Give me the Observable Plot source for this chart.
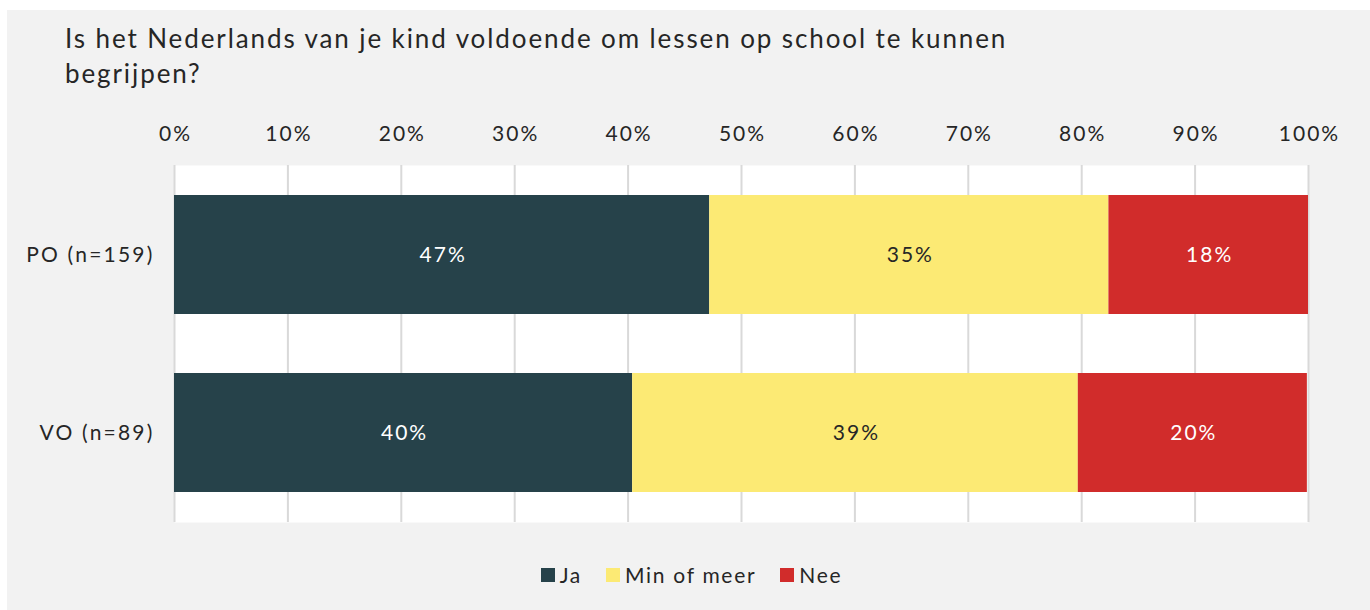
<!DOCTYPE html>
<html>
<head>
<meta charset="utf-8">
<script src="https://cdn.jsdelivr.net/npm/d3@7"></script>
<script src="https://cdn.jsdelivr.net/npm/@observablehq/plot@0.6"></script>
<style>
  html, body { margin: 0; padding: 0; background: #ffffff; }
  #page { position: relative; width: 1370px; height: 610px; overflow: hidden; font-family: Lato, "Open Sans", sans-serif; color: #262626; }
  #panel { position: absolute; left: 7px; top: 10px; width: 1363px; height: 600px; background: #f2f2f2; }
  #title { position: absolute; left: 65px; top: 21px; font-size: 26px; line-height: 35px; letter-spacing: 1.9px; color: #262626; width: 1100px; }
  #chart { position: absolute; left: 0; top: 100px; }
  #legend { position: absolute; left: 0; width: 1383px; top: 562px; display: flex; justify-content: center; font-size: 21px; letter-spacing: 1.7px; color: #262626; }
  .item { display: flex; align-items: center; margin: 0 12px; }
  .sw { width: 14px; height: 14px; margin-right: 5px; }
  g[aria-label="x-axis tick label"] text { letter-spacing: 2px; }
  g[aria-label="y-axis tick label"] text { letter-spacing: 2.2px; }
  g[aria-label="text"] text { letter-spacing: 2px; }
</style>
</head>
<body>
<div id="page">
  <div id="panel"></div>
  <div id="title">Is het Nederlands van je kind voldoende om lessen op school te kunnen<br>begrijpen?</div>
  <div id="chart"></div>
  <div id="legend"></div>
</div>
<script>
const groups = ["PO (n=159)", "VO (n=89)"];
const series = ["Ja", "Min of meer", "Nee"];
const colors = ["#26424a", "#fcea74", "#d12c2b"];
const labelColors = ["#ffffff", "#262626", "#ffffff"];
const ja = [47.2, 40.4];
const minOfMeer = [35.2, 39.3];
const nee = [17.6, 20.2];
const xTicks = [0, 10, 20, 30, 40, 50, 60, 70, 80, 90, 100];

const valuesBySeries = [ja, minOfMeer, nee];
const data = [];
series.forEach((s, si) => {
  groups.forEach((g, gi) => {
    data.push({group: g, series: s, value: valuesBySeries[si][gi], labelColor: labelColors[si]});
  });
});

const plot = Plot.plot({
  width: 1370,
  height: 440,
  marginLeft: 174,
  marginRight: 62,
  marginTop: 65,
  marginBottom: 18,
  style: {fontFamily: "Lato, 'Open Sans', sans-serif", fontSize: "21px", color: "#262626", background: "transparent"},
  x: {domain: [0, 100]},
  y: {domain: groups, paddingInner: 0.33, paddingOuter: 0.165},
  color: {domain: series, range: colors},
  marks: [
    Plot.frame({fill: "white", stroke: "none"}),
    Plot.gridX(xTicks, {stroke: "#d9d9d9", strokeOpacity: 1, strokeWidth: 2}),
    Plot.barX(data, Plot.stackX({x: "value", y: "group", fill: "series", order: series})),
    Plot.text(data, Plot.stackX({x: "value", y: "group", order: series, text: d => Math.round(d.value) + "%", fill: "labelColor", fontSize: 21, dx: 1})),
    Plot.axisX(xTicks, {anchor: "top", tickSize: 0, tickPadding: 25, tickFormat: d => d + "%", fontSize: 21, dx: 1, label: null}),
    Plot.axisY({tickSize: 0, tickPadding: 20, fontSize: 21, label: null})
  ]
});
document.getElementById("chart").appendChild(plot);

const legend = document.getElementById("legend");
series.forEach((s, i) => {
  const item = document.createElement("div");
  item.className = "item";
  const sw = document.createElement("div");
  sw.className = "sw";
  sw.style.background = colors[i];
  const t = document.createElement("span");
  t.textContent = s;
  item.appendChild(sw);
  item.appendChild(t);
  legend.appendChild(item);
});
</script>
</body>
</html>
